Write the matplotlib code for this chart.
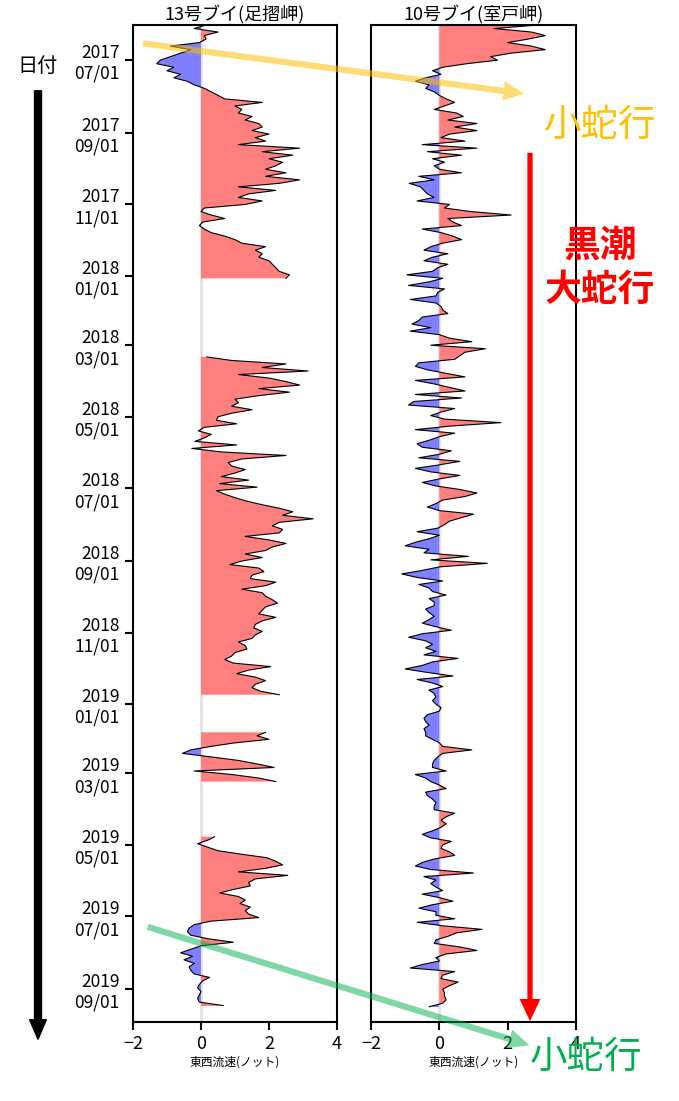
import numpy as np
import pandas as pd
import matplotlib
matplotlib.use("Agg")
import matplotlib.pyplot as plt
import matplotlib.dates as mdates
from matplotlib.patches import FancyArrowPatch

plt.rcParams['font.family'] = ['Noto Sans CJK JP', 'DejaVu Sans']

# 13号ブイ(足摺岬): east-west current (knots), one value every 3 days, with gaps
ashizuri_seg1_start = "2017-06-01"
ashizuri_seg1 = [0.15, -0.2, 0.5, 0.1, 0.15, -0.05, -0.9, -0.3, -0.6, -0.9,
                 -1.2, -1.3, -0.8, -1.0, -0.6, -0.8, -0.4, -0.2, 0.1, 0.3,
                 0.5, 0.7, 1.8, 1.0, 1.2, 1.1, 1.5, 1.3, 1.7, 1.8,
                 1.5, 2.0, 1.6, 1.9, 1.1, 2.9, 1.8, 2.7, 2.0, 2.4,
                 2.2, 1.9, 2.5, 1.9, 2.9, 2.3, 1.1, 2.2, 1.4, 1.1,
                 1.8, 1.3, 0.1, 0.0, 0.3, 0.7, 0.05, -0.05, 0.1, 0.3,
                 0.7, 1.0, 1.2, 1.9, 1.6, 1.8, 1.7, 2.0, 2.1, 2.2,
                 2.3, 2.6, 2.5]
ashizuri_seg2_start = "2018-03-11"
ashizuri_seg2 = [0.17, 0.9, 2.5, 1.8, 3.15, 1.1, 2.0, 2.5, 2.9, 1.7,
                 2.6, 1.7, 1.0, 1.1, 0.9, 1.5, 0.9, 0.5, 0.45, 1.05,
                 0.1, -0.08, 0.3, 0.1, -0.18, 1.05, -0.27, 0.6, 2.5, 1.2,
                 0.8, 0.9, 1.3, 1.0, 0.6, 1.4, 0.55, 1.65, 0.45, 0.7,
                 1.0, 1.35, 1.8, 2.3, 2.7, 2.4, 3.3, 2.3, 2.1, 2.4,
                 2.3, 1.3, 2.0, 2.5, 2.1, 1.9, 1.3, 1.8, 1.2, 0.85,
                 1.7, 1.85, 1.5, 1.45, 2.2, 1.9, 1.2, 1.8, 1.9, 2.1,
                 2.25, 1.9, 1.8, 1.7, 2.2, 1.8, 1.6, 1.55, 1.8, 1.6,
                 1.5, 1.1, 1.3, 1.35, 1.0, 0.9, 0.7, 0.95, 2.05, 1.4,
                 1.05, 1.6, 1.9, 1.6, 1.5, 1.75, 2.3]
ashizuri_seg3_start = "2019-01-25"
ashizuri_seg3 = [1.9, 1.65, 2.0, 1.0, 0.3, -0.3, -0.55, 0.3, 1.1, 1.65,
                 2.15, -0.2, 0.9, 1.7, 2.2]
ashizuri_seg4_start = "2019-04-24"
ashizuri_seg4 = [0.4, 0.2, -0.1, 0.2, 0.5, 1.2, 1.95, 2.2, 2.4, 1.9,
                 1.1, 2.55, 1.6, 1.4, 1.45, 0.95, 0.55, 1.1, 1.3, 1.15,
                 1.45, 1.3, 1.4, 1.7, 0.3, -0.2, -0.35, -0.4, -0.3, 0.2,
                 0.95, 0.0, -0.3, -0.6, -0.25, -0.5, -0.2, -0.35, -0.3, -0.2,
                 0.25, 0.05, -0.05, -0.1, 0.0, -0.05, -0.1, -0.05, 0.65]

# 10号ブイ(室戸岬): one value every 3 days, continuous
muroto_start = "2017-06-01"
muroto = [2.9, 1.6, 2.7, 3.1, 2.6, 2.0, 2.7, 3.1, 2.1, 1.5,
          1.7, 0.8, 0.1, -0.2, 0.05, -0.4, -0.7, -0.3, -0.4, -0.15,
          0.0, 0.2, 0.45, 0.15, -0.15, 0.5, 0.7, 0.25, 1.1, 0.45,
          1.1, 0.3, 0.05, 0.75, -0.5, 1.1, -0.35, 0.65, -0.2, 0.15,
          -0.15, 0.0, 0.65, -0.6, -0.15, -0.88, -0.55, -0.45, -0.35, -0.15,
          -0.65, 0.3, 0.15, 0.9, 2.1, 0.25, 0.4, 0.65, -0.5, 0.05,
          0.4, 0.65, 0.1, -0.25, -0.45, 0.25, -0.2, -0.45, 0.25, -0.05,
          -0.2, -0.95, 0.1, -0.3, -0.9, 0.15, -0.05, -0.1, -0.85, -0.1,
          0.05, 0.1, 0.25, -0.5, -0.6, -0.8, -0.25, -0.85, 0.0, 0.3,
          0.95, -0.25, 1.35, 0.75, 0.6, 0.45, -0.6, -0.7, -0.35, 0.2,
          0.75, -0.7, -0.15, 0.3, 0.75, -0.7, 0.65, -0.75, -0.9, 0.45,
          0.05, -0.25, 0.15, 1.8, 0.3, -0.7, 0.45, 0.0, -0.3, -0.65,
          -0.5, 0.35, 0.0, -0.6, 0.6, 0.0, -0.7, -0.25, 0.6, 0.0,
          -0.5, -0.1, 0.6, 1.1, 0.75, 0.1, -0.1, -0.35, 0.0, 1.0,
          0.65, 0.3, 0.15, -0.05, -0.65, 0.0, -0.3, -0.7, -1.0, -0.3,
          -0.45, 0.85, -0.25, 1.4, 0.0, -0.5, -1.1, -0.65, 0.1, -0.6,
          -0.3, -0.2, 0.2, -0.3, -0.15, -0.15, -0.4, -0.3, -0.15, -0.3,
          -0.5, -0.1, 0.35, -0.5, -0.9, -0.4, -0.2, -0.4, -0.1, -0.45,
          0.55, -0.2, -0.5, -1.0, -0.35, 0.4, -0.65, -0.2, 0.1, -0.3,
          -0.15, -0.1, -0.2, -0.1, 0.05, 0.0, -0.35, -0.45, -0.4, -0.3,
          -0.45, -0.4, -0.4, -0.2, 0.0, 0.1, 0.95, 0.1, -0.05, -0.15,
          -0.2, -0.2, 0.2, -0.7, -0.4, -0.25, 0.0, 0.2, -0.4, -0.35,
          -0.2, -0.1, -0.15, -0.15, 0.45, 0.2, 0.05, 0.2, 0.05, -0.2,
          -0.5, -0.25, 0.35, 0.1, 0.05, 0.3, 0.45, -0.15, -0.5, -0.7,
          -0.25, 1.0, -0.45, -0.1, -0.25, -0.1, 0.1, -0.5, 0.0, 0.4,
          -0.2, -0.6, -0.1, -0.1, 0.45, -0.65, 0.1, 1.25, 0.5, 0.25,
          -0.1, -0.15, 0.6, 1.1, 0.2, -0.1, 0.0, -0.5, -0.85, 0.45,
          0.1, 0.05, 0.55, 0.3, 0.1, 0.15, 0.15, 0.2, 0.1, -0.3]

tick_dates = pd.date_range("2017-07-01", "2019-09-01", freq="2MS")
date_min, date_max = pd.Timestamp("2017-06-01"), pd.Timestamp("2019-09-29")
titles = ["13号ブイ(足摺岬)", "10号ブイ(室戸岬)"]
xlabel = "東西流速(ノット)"

W, H = 679, 1101
fig = plt.figure(figsize=(W / 100, H / 100), dpi=100)
ax1 = fig.add_axes([133 / W, 1 - 1022 / H, 204 / W, 997 / H])
ax2 = fig.add_axes([371 / W, 1 - 1022 / H, 205 / W, 997 / H])


def draw_segment(ax, start, vals):
    vals = np.array(vals)
    dates = pd.date_range(start, periods=len(vals), freq="3D")
    ax.fill_betweenx(dates, 0, vals, where=vals >= 0, color="#ff7f7f", interpolate=True, lw=0)
    ax.fill_betweenx(dates, 0, vals, where=vals <= 0, color="#7f7fff", interpolate=True, lw=0)
    ax.plot(vals, dates, color="black", lw=0.8)


for start, vals in [(ashizuri_seg1_start, ashizuri_seg1), (ashizuri_seg2_start, ashizuri_seg2),
                    (ashizuri_seg3_start, ashizuri_seg3), (ashizuri_seg4_start, ashizuri_seg4)]:
    draw_segment(ax1, start, vals)
draw_segment(ax2, muroto_start, muroto)

for ax, title in zip([ax1, ax2], titles):
    ax.axvline(0, color="#e0e0e0", lw=1.8, zorder=0)
    ax.set_xlim(-2, 4)
    ax.set_xticks([-2, 0, 2, 4])
    ax.set_ylim(date_max, date_min)
    ax.set_title(title, fontsize=13, pad=3)
    ax.set_xlabel(xlabel, fontsize=8.5, labelpad=2)
    ax.tick_params(axis="x", labelsize=13, length=6, width=1.5)
    for s in ax.spines.values():
        s.set_linewidth(1.5)

ax1.set_yticks(tick_dates)
ax1.yaxis.set_major_formatter(mdates.DateFormatter("%Y\n%m/%d"))
ax1.tick_params(axis="y", labelsize=12.5, length=6, width=1.5)
ax2.set_yticks([])


def fpos(x, y):
    return (x / W, 1 - y / H)


# 日付 arrow
fig.text(*fpos(38, 66), "日付", fontsize=14.5, ha="center", va="center")
fig.add_artist(FancyArrowPatch(fpos(38, 88), fpos(38, 1042), transform=fig.transFigure,
                               arrowstyle="simple,head_length=14,head_width=12,tail_width=5",
                               color="black", mutation_scale=1))

# 小蛇行 (2017)
fig.add_artist(FancyArrowPatch(fpos(140, 43), fpos(527, 94), transform=fig.transFigure,
                               arrowstyle="simple,head_length=15,head_width=14,tail_width=4.5",
                               color="#FFC000", alpha=0.55, mutation_scale=1, lw=0))
fig.text(*fpos(600, 125), "小蛇行", fontsize=27, color="#FFC000", ha="center", va="center")

# 黒潮大蛇行
fig.add_artist(FancyArrowPatch(fpos(530, 150), fpos(530, 1024), transform=fig.transFigure,
                               arrowstyle="simple,head_length=16,head_width=15,tail_width=3.8",
                               color="red", mutation_scale=1, lw=0))
fig.text(*fpos(600, 268), "黒潮\n大蛇行", fontsize=26.5, color="red", fontweight="bold",
         ha="center", va="center", linespacing=1.25)

# 小蛇行 (2019)
fig.add_artist(FancyArrowPatch(fpos(145, 926), fpos(532, 1046), transform=fig.transFigure,
                               arrowstyle="simple,head_length=15,head_width=14,tail_width=4.5",
                               color="#00B050", alpha=0.5, mutation_scale=1, lw=0))
fig.text(*fpos(586, 1057), "小蛇行", fontsize=27, color="#00B050", ha="center", va="center")

fig.savefig("out.png", dpi=100)
